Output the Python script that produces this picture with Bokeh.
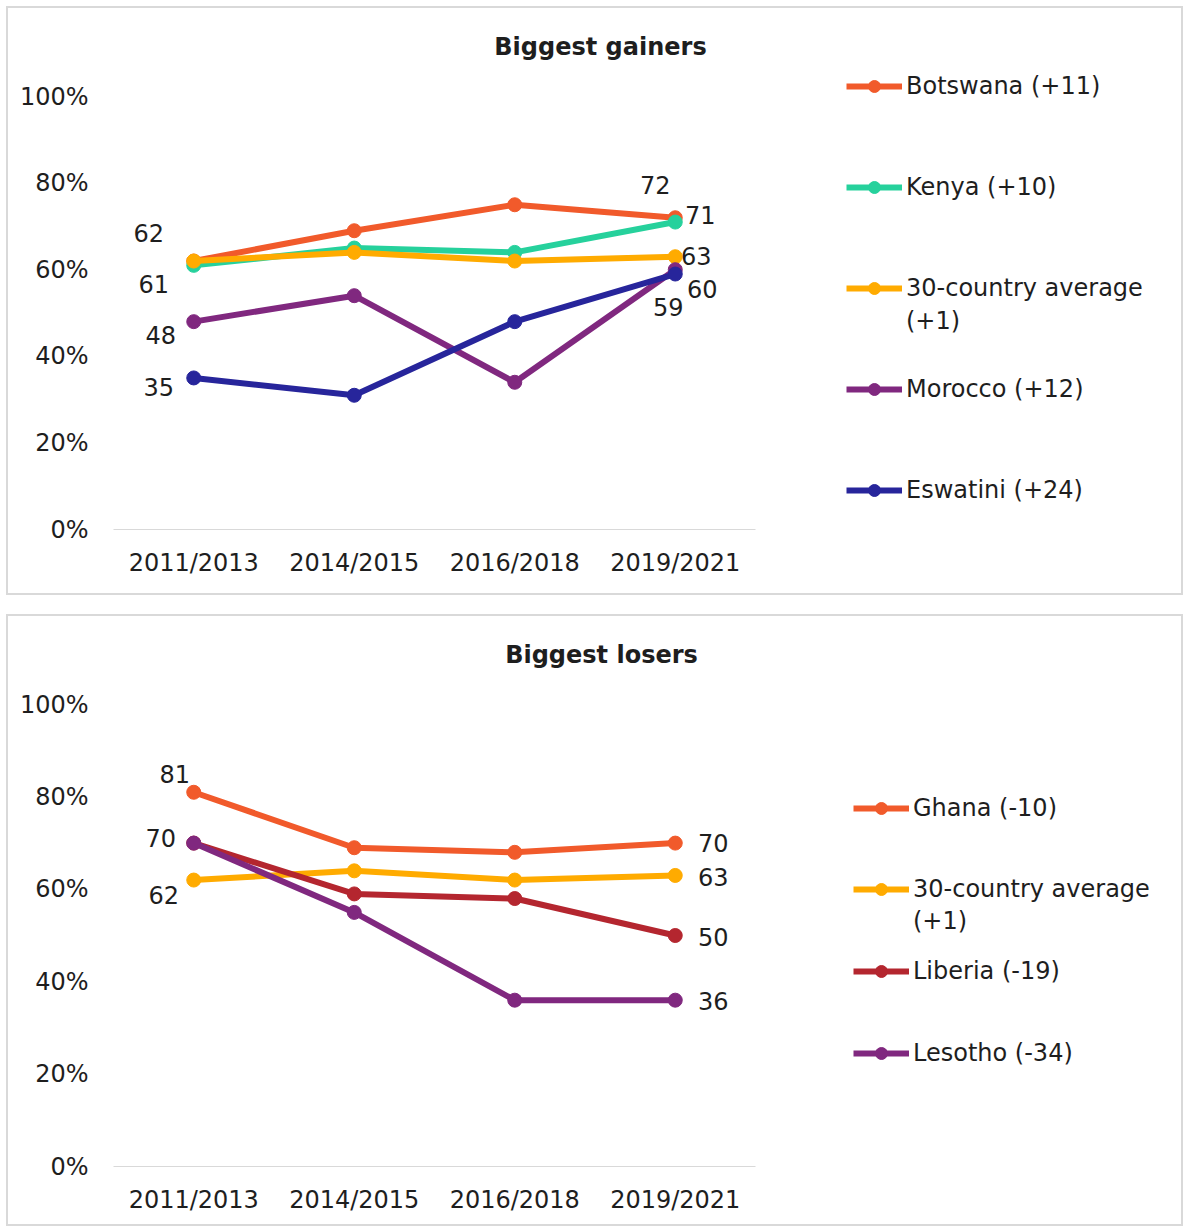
from bokeh.plotting import figure
from bokeh.models import (Range1d, FixedTicker, PrintfTickFormatter,
                          Legend, LegendItem, Label, ColumnDataSource)
from bokeh.layouts import column
from bokeh.embed import file_html
from bokeh.resources import INLINE
from bokeh.core.properties import value

# ---------------- data ----------------
periods = ["2011/2013", "2014/2015", "2016/2018", "2019/2021"]
y_ticks = [0, 20, 40, 60, 80, 100]

gainers_title = "Biggest gainers"
gainers_series = ["Botswana (+11)", "Kenya (+10)", "30-country average\n(+1)",
                  "Morocco (+12)", "Eswatini (+24)"]
botswana = [62, 69, 75, 72]
kenya = [61, 65, 64, 71]
average = [62, 64, 62, 63]
morocco = [48, 54, 34, 60]
eswatini = [35, 31, 48, 59]

losers_title = "Biggest losers"
losers_series = ["Ghana (-10)", "30-country average\n(+1)", "Liberia (-19)", "Lesotho (-34)"]
ghana = [81, 69, 68, 70]
liberia = [70, 59, 58, 50]
lesotho = [70, 55, 36, 36]

# data labels shown: (series index, period index)
gainers_label_points = [(0, 0), (1, 0), (3, 0), (4, 0), (0, 3), (1, 3), (2, 3), (3, 3), (4, 3)]
losers_label_points = [(0, 0), (2, 0), (1, 0), (0, 3), (1, 3), (2, 3), (3, 3)]

# ---------------- styles ----------------
FONT = "DejaVu Sans"
TXT = "#1e1e1e"
gainers_colors = ["#F15A2B", "#26D19C", "#FFAB00", "#80287F", "#27259B"]
losers_colors = ["#F15A2B", "#FFAB00", "#B4262F", "#80287F"]
gainers_label_offsets = [(-45, -28), (-40, 19), (-33, 13), (-35, 9), (-20, -33),
                         (25, -7), (21, -1), (27, 19), (-7, 33)]
losers_label_offsets = [(-19, -18), (-33, -5), (-30, 15), (38, 0), (38, 2), (38, 1), (38, 1)]

FIG_W = 1173
LEFT = 105
CAT_PX = 160.5  # pixels per period slot


def legend_box(items, loc):
    return Legend(items=items, location=loc, orientation="vertical",
                  glyph_width=56, glyph_height=30, label_height=30, label_standoff=4,
                  padding=0, margin=0, spacing=0, border_line_color=None,
                  background_fill_alpha=0,
                  label_text_font=FONT, label_text_font_size="24px",
                  label_text_color=TXT)


def make_panel(title, names, series, colors, label_points, label_offsets,
               height, bottom, plot_px, title_xy, legend_x, legend_ys):
    frame_w = FIG_W - LEFT
    frame_h = height - bottom
    n = len(periods)
    xs = list(range(n))
    p = figure(width=FIG_W, height=height,
               x_range=Range1d(-0.5, -0.5 + frame_w / CAT_PX),
               y_range=Range1d(0, 100 * frame_h / plot_px),
               output_backend="svg", toolbar_location=None,
               min_border_left=LEFT, min_border_right=0,
               min_border_top=0, min_border_bottom=bottom)
    p.outline_line_color = None
    p.xgrid.visible = False
    p.ygrid.visible = False
    p.background_fill_color = "white"
    p.border_fill_color = "white"
    p.styles = {"box-shadow": "0 0 0 2px #d9d9d9"}

    p.yaxis.ticker = FixedTicker(ticks=y_ticks)
    p.yaxis.formatter = PrintfTickFormatter(format="%d%%")
    p.yaxis.axis_line_color = None
    p.yaxis.major_tick_line_color = None
    p.yaxis.minor_tick_line_color = None
    p.yaxis.major_label_standoff = 19
    p.xaxis.ticker = FixedTicker(ticks=xs)
    p.xaxis.major_label_overrides = {i: periods[i] for i in xs}
    p.xaxis.bounds = (-0.5, n - 0.5)
    p.xaxis.axis_line_color = "#d9d9d9"
    p.xaxis.axis_line_width = 1
    p.xaxis.major_tick_line_color = None
    p.xaxis.minor_tick_line_color = None
    p.xaxis.major_label_standoff = 13
    for ax in (p.xaxis, p.yaxis):
        ax.major_label_text_font = FONT
        ax.major_label_text_font_size = "24px"
        ax.major_label_text_color = TXT

    renderers = []
    for vals, col in zip(series, colors):
        r1 = p.line(xs, vals, line_width=6, color=col)
        r2 = p.scatter(xs, vals, size=14, color=col)
        renderers.append([r1, r2])

    lx, ly, lt, dx, dy = [], [], [], [], []
    for (si, pi), (ox, oy) in zip(label_points, label_offsets):
        lx.append(xs[pi])
        ly.append(series[si][pi])
        lt.append(str(series[si][pi]))
        dx.append(ox)
        dy.append(oy)
    src = ColumnDataSource(dict(x=lx, y=ly, t=lt, dx=dx, dy=dy))
    p.text(x="x", y="y", text="t", x_offset="dx", y_offset="dy", source=src,
           text_font=value(FONT), text_font_size="24px", text_color=TXT,
           text_align="center", text_baseline="middle")

    p.add_layout(Label(x=title_xy[0], y=title_xy[1], x_units="screen", y_units="screen",
                       text=title, text_align="center", text_baseline="middle",
                       text_font=FONT, text_font_size="24px", text_font_style="bold",
                       text_color=TXT))

    # one legend box per legend line (wrapped entries continue without a glyph)
    k = 0
    for name, rs in zip(names, renderers):
        for j, line in enumerate(name.split("\n")):
            item = LegendItem(label=line, renderers=rs if j == 0 else [])
            p.add_layout(legend_box([item], (legend_x, legend_ys[k])))
            k += 1
    return p


# top panel: frame bottom at page y 529, 100% at 96 ; bottom panel: 1166, 704
p1 = make_panel(gainers_title, gainers_series, [botswana, kenya, average, morocco, eswatini],
                gainers_colors, gainers_label_points, gainers_label_offsets,
                height=585, bottom=64, plot_px=433, title_xy=(487, 483),
                legend_x=733, legend_ys=[428, 327, 226, 193, 125, 24])
p2 = make_panel(losers_title, losers_series, [ghana, average, liberia, lesotho],
                losers_colors, losers_label_points, losers_label_offsets,
                height=608, bottom=58, plot_px=462, title_xy=(488, 512),
                legend_x=740, legend_ys=[343, 262, 230, 180, 98])

layout = column(p1, p2, spacing=23, margin=(8, 0, 0, 8))
open("out.html", "w").write(file_html(layout, INLINE))
